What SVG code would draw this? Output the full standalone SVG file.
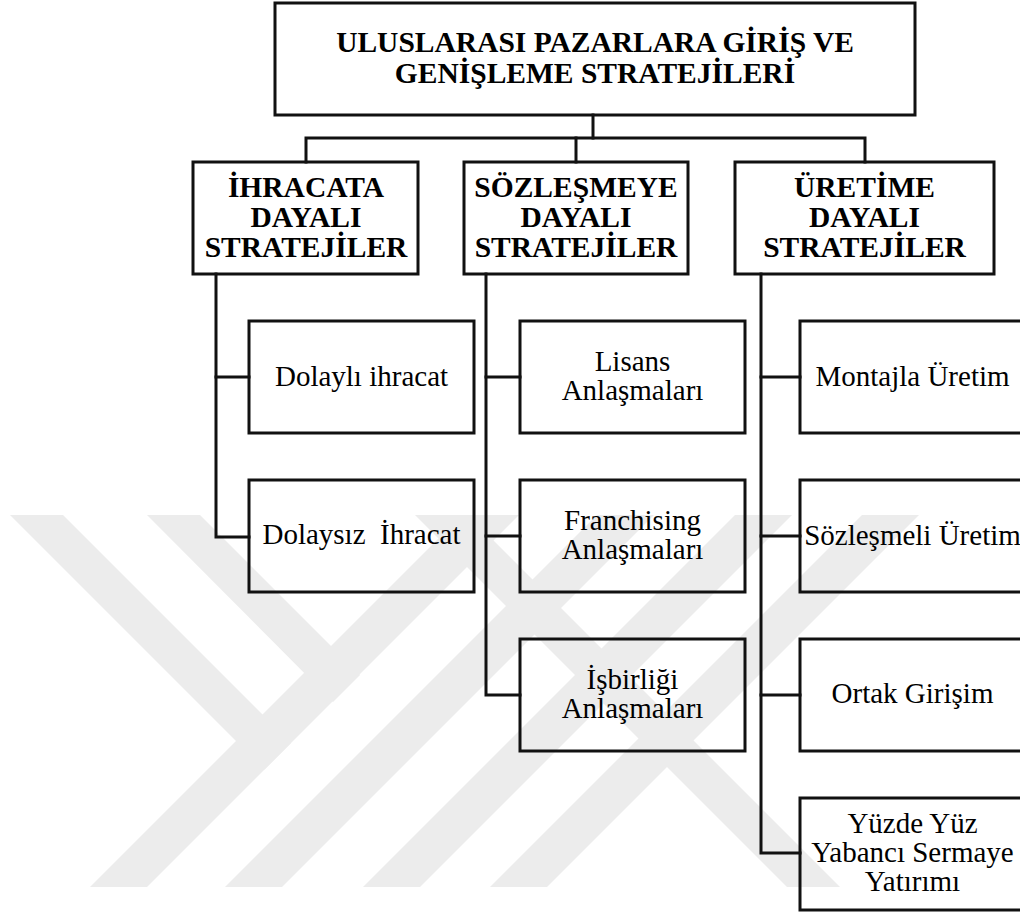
<svg xmlns="http://www.w3.org/2000/svg" width="1020" height="916" viewBox="0 0 1020 916">
  <style>
    .box { fill: none; stroke: #111; stroke-width: 3; }
    .wire { fill: none; stroke: #111; stroke-width: 3; stroke-linecap: square; }
    .head { font-family: "Liberation Serif", "Times New Roman", serif; font-weight: bold; font-size: 29.5px; fill: #000; text-anchor: middle; }
    .leaf { font-family: "Liberation Serif", "Times New Roman", serif; font-size: 29px; fill: #000; text-anchor: middle; }
    .mark { fill: #ececec; }
  </style>
  <defs>
    <clipPath id="markClip">
      <rect x="0" y="515" width="1020" height="372"/>
    </clipPath>
  </defs>
  <rect width="1020" height="916" fill="#fff"/>

  <!-- background emblem: diagonal stripes -->
  <g id="emblem" clip-path="url(#markClip)">
    <polygon class="mark" points="90,887 147,887 519,515 462,515"/>
    <polygon class="mark" points="225,887 282,887 654,515 597,515"/>
    <polygon class="mark" points="363,887 420,887 792,515 735,515"/>
    <polygon class="mark" points="490,887 547,887 919,515 862,515"/>
    <polygon class="mark" points="10,515 63,515 291,743 264.5,769.5"/>
    <polygon class="mark" points="147,515 200,515 360,675 333,702"/>
    <polygon class="mark" points="415,515 468,515 840,887 787,887"/>
  </g>

  <!-- connectors -->
  <g id="connectors">
    <polyline class="wire" points="593,115 593,138"/>
    <polyline class="wire" points="306,162 306,138 865,138 865,162"/>
    <polyline class="wire" points="576,138 576,162"/>
    <polyline class="wire" points="216,274 216,537 249,537"/>
    <polyline class="wire" points="216,377 249,377"/>
    <polyline class="wire" points="486,274 486,695 520,695"/>
    <polyline class="wire" points="486,377 520,377"/>
    <polyline class="wire" points="486,536 520,536"/>
    <polyline class="wire" points="761,274 761,853 800,853"/>
    <polyline class="wire" points="761,377 800,377"/>
    <polyline class="wire" points="761,536 800,536"/>
    <polyline class="wire" points="761,695 800,695"/>
  </g>

  <g id="root">
    <rect class="box" x="275" y="3" width="640" height="112"/>
    <text class="head" x="595" y="52">ULUSLARASI PAZARLARA GİRİŞ VE</text>
    <text class="head" x="595" y="83">GENİŞLEME STRATEJİLERİ</text>
  </g>

  <g id="export">
    <rect class="box" x="193" y="162" width="225" height="112"/>
    <text class="head" x="306" y="197">İHRACATA</text>
    <text class="head" x="306" y="227">DAYALI</text>
    <text class="head" x="306" y="257">STRATEJİLER</text>
  </g>

  <g id="contract">
    <rect class="box" x="464" y="162" width="224" height="112"/>
    <text class="head" x="576" y="197">SÖZLEŞMEYE</text>
    <text class="head" x="576" y="227">DAYALI</text>
    <text class="head" x="576" y="257">STRATEJİLER</text>
  </g>

  <g id="production">
    <rect class="box" x="735" y="162" width="259" height="112"/>
    <text class="head" x="864.5" y="197">ÜRETİME</text>
    <text class="head" x="864.5" y="227">DAYALI</text>
    <text class="head" x="864.5" y="257">STRATEJİLER</text>
  </g>

  <g id="indirect-export">
    <rect class="box" x="249" y="321" width="225" height="112"/>
    <text class="leaf" x="361.5" y="386">Dolaylı ihracat</text>
  </g>

  <g id="direct-export">
    <rect class="box" x="249" y="480" width="225" height="112"/>
    <text class="leaf" x="361.5" y="544" xml:space="preserve">Dolaysız  İhracat</text>
  </g>

  <g id="licensing">
    <rect class="box" x="520" y="321" width="225" height="112"/>
    <text class="leaf" x="632.5" y="370.5">Lisans</text>
    <text class="leaf" x="632.5" y="399.5">Anlaşmaları</text>
  </g>

  <g id="franchising">
    <rect class="box" x="520" y="480" width="225" height="112"/>
    <text class="leaf" x="632.5" y="529.5">Franchising</text>
    <text class="leaf" x="632.5" y="558.5">Anlaşmaları</text>
  </g>

  <g id="cooperation">
    <rect class="box" x="520" y="639" width="225" height="112"/>
    <text class="leaf" x="632.5" y="688.5">İşbirliği</text>
    <text class="leaf" x="632.5" y="717.5">Anlaşmaları</text>
  </g>

  <g id="assembly">
    <rect class="box" x="800" y="321" width="225" height="112"/>
    <text class="leaf" x="912.5" y="386">Montajla Üretim</text>
  </g>

  <g id="contract-manufacturing">
    <rect class="box" x="800" y="480" width="225" height="112"/>
    <text class="leaf" x="912.5" y="545">Sözleşmeli Üretim</text>
  </g>

  <g id="joint-venture">
    <rect class="box" x="800" y="639" width="225" height="112"/>
    <text class="leaf" x="912.5" y="703">Ortak Girişim</text>
  </g>

  <g id="wholly-owned">
    <rect class="box" x="800" y="798" width="225" height="112"/>
    <text class="leaf" x="912.5" y="833">Yüzde Yüz</text>
    <text class="leaf" x="912.5" y="862">Yabancı Sermaye</text>
    <text class="leaf" x="912.5" y="891">Yatırımı</text>
  </g>
</svg>
